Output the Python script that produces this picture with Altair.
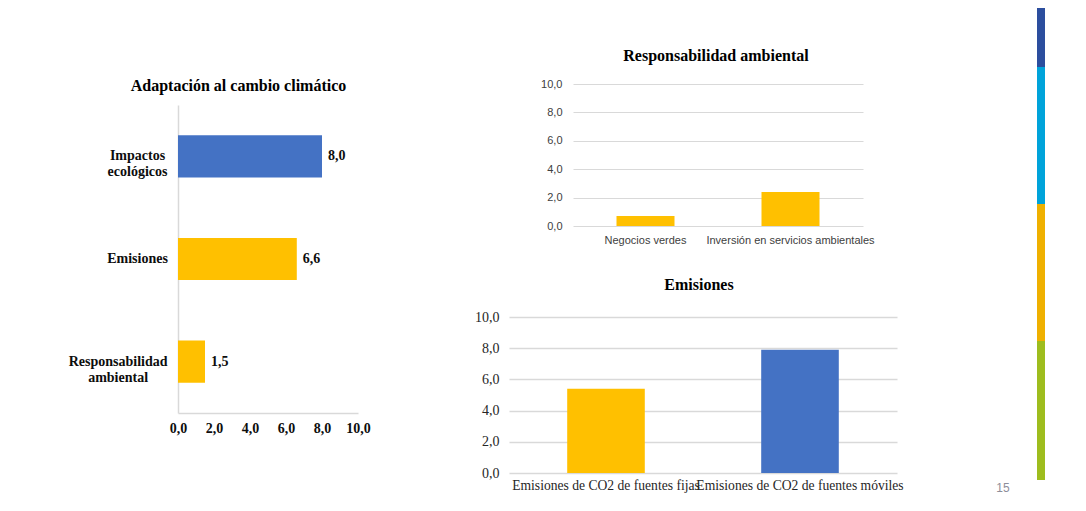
import altair as alt
import pandas as pd

# ---------------- data ----------------
adapt_cats = ["Impactos ecológicos", "Emisiones", "Responsabilidad ambiental"]
adapt_vals = [8.0, 6.6, 1.5]

resp_cats = ["Negocios verdes", "Inversión en servicios ambientales"]
resp_vals = [0.7, 2.4]

emis_cats = ["Emisiones de CO2 de fuentes fijas", "Emisiones de CO2 de fuentes móviles"]
emis_vals = [5.4, 7.9]

tick_values = [0, 2, 4, 6, 8, 10]

titles = ["Adaptación al cambio climático", "Responsabilidad ambiental", "Emisiones"]
page_number = ["15"]

# ---------------- styles ----------------
SERIF = "Liberation Serif"
SANS = "Liberation Sans"
BLUE = "#4472C4"
YELLOW = "#FFC000"
GRID = "#d9d9d9"
NUM = "replace(format(datum.value, '.1f'), '.', ',')"
W, H = 1070, 495

# centred multi-line labels whose right edge sits 11px left of the axis
label_pad = {
    "condition": {"test": f"datum.value == '{adapt_cats[2]}'", "value": 60.4},
    "value": 41,
}

# ---------------- left: Adaptación al cambio climático ----------------
df_a = pd.DataFrame({"cat": adapt_cats, "val": adapt_vals})
x_a = alt.X(
    "val:Q",
    scale=alt.Scale(domain=[0, 10], range=[170, 350], nice=False, zero=True),
    axis=alt.Axis(orient="bottom", offset=-90, values=tick_values, labelExpr=NUM,
                  domain=True, domainColor=GRID, domainWidth=1.5, ticks=False, tickSize=0,
                  grid=False, labelPadding=8, labelFlush=False, labelOverlap=False,
                  labelFont=SERIF, labelFontWeight="bold", labelFontSize=14,
                  labelColor="#0d0d0d", title=None),
)
y_a = alt.Y(
    "cat:N", sort=adapt_cats,
    scale=alt.Scale(domain=adapt_cats, range=[97, 405], paddingInner=0.59, paddingOuter=0.295),
    axis=alt.Axis(orient="left", offset=-170, domain=True, domainColor=GRID, domainWidth=1.5,
                  ticks=False, tickSize=0, grid=False, labelPadding=label_pad, labelLimit=0,
                  labelFont=SERIF, labelFontWeight="bold", labelFontSize=14,
                  labelColor="#0d0d0d", labelLineHeight=16, labelAlign="center",
                  labelExpr="split(datum.label, ' ')", title=None),
)
bars_a = alt.Chart(df_a).mark_bar().encode(
    x=x_a, y=y_a,
    color=alt.condition(alt.datum.cat == adapt_cats[0], alt.value(BLUE), alt.value(YELLOW)),
)
text_a = alt.Chart(df_a).transform_calculate(
    lbl="replace(format(datum.val, '.1f'), '.', ',')"
).mark_text(align="left", baseline="middle", dx=6, font=SERIF, fontWeight="bold",
            fontSize=14, color="#0d0d0d").encode(x=x_a, y=y_a, text="lbl:N")
left = alt.layer(bars_a, text_a)

# ---------------- top right: Responsabilidad ambiental ----------------
df_r = pd.DataFrame({"cat": resp_cats, "val": resp_vals})
right_top = alt.Chart(df_r).mark_bar(color=YELLOW).encode(
    x=alt.X("cat:N", sort=resp_cats,
            scale=alt.Scale(domain=resp_cats, range=[565, 855], paddingInner=0.6, paddingOuter=0.3),
            axis=alt.Axis(orient="bottom", offset=-277, domain=False, ticks=False, tickSize=0,
                          grid=False, labelAngle=0, labelPadding=8, labelLimit=0,
                          labelOverlap=False, labelFont=SANS, labelFontSize=11,
                          labelColor="#404040", title=None)),
    y=alt.Y("val:Q",
            scale=alt.Scale(domain=[0, 10], range=[218, 76], nice=False, zero=True),
            axis=alt.Axis(orient="left", offset=-565, values=tick_values, labelExpr=NUM,
                          domain=False, ticks=False, tickSize=0, grid=True, gridColor=GRID,
                          gridWidth=1, labelPadding=11, labelFont=SANS, labelFontSize=11,
                          labelColor="#404040", title=None)),
)

# ---------------- bottom right: Emisiones ----------------
df_e = pd.DataFrame({"cat": emis_cats, "val": emis_vals})
right_bottom = alt.Chart(df_e).mark_bar().encode(
    x=alt.X("cat:N", sort=emis_cats,
            scale=alt.Scale(domain=emis_cats, range=[501, 889], paddingInner=0.6, paddingOuter=0.3),
            axis=alt.Axis(orient="bottom", offset=-30, domain=False, ticks=False, tickSize=0,
                          grid=False, labelAngle=0, labelPadding=5, labelLimit=0,
                          labelOverlap=False, labelFont=SERIF, labelFontSize=13.6,
                          labelColor="#262626", title=None)),
    y=alt.Y("val:Q",
            scale=alt.Scale(domain=[0, 10], range=[465, 309], nice=False, zero=True),
            axis=alt.Axis(orient="left", offset=-501, values=tick_values, labelExpr=NUM,
                          domain=False, ticks=False, tickSize=0, grid=True, gridColor=GRID,
                          gridWidth=1.5, labelPadding=10, labelFont=SERIF, labelFontSize=14,
                          labelColor="#262626", title=None)),
    color=alt.condition(alt.datum.cat == emis_cats[1], alt.value(BLUE), alt.value(YELLOW)),
)

# ---------------- titles ----------------
title_pos = [(230.5, 82.5), (708, 52.5), (691, 282)]
title_layers = [
    alt.Chart(pd.DataFrame({"t": [t]})).mark_text(
        font=SERIF, fontWeight="bold", fontSize=16, align="center",
        baseline="alphabetic", color="#000000",
    ).encode(x=alt.value(px), y=alt.value(py), text="t:N")
    for t, (px, py) in zip(titles, title_pos)
]

page_layer = alt.Chart(pd.DataFrame({"t": page_number})).mark_text(
    font=SANS, fontSize=12, align="center", baseline="alphabetic", color="#8e8e9a"
).encode(x=alt.value(995), y=alt.value(484), text="t:N")

# ---------------- decorative side stripe ----------------
stripe = [("#2C4E9E", -8, 59), ("#00A3DA", 59, 196), ("#EFB000", 196, 333), ("#9EBD1E", 333, 472)]
stripe_layers = [
    alt.Chart(pd.DataFrame({"a": [0]})).mark_rect(color=c).encode(
        x=alt.value(1029), x2=alt.value(1037), y=alt.value(y0), y2=alt.value(y1))
    for c, y0, y1 in stripe
]

chart = alt.layer(
    left, right_top, right_bottom, *title_layers, page_layer, *stripe_layers
).resolve_scale(
    x="independent", y="independent"
).resolve_axis(
    x="independent", y="independent"
).properties(
    width=W, height=H, padding=0, autosize=alt.AutoSizeParams(type="none"),
    background="white",
).configure_view(stroke=None)

chart.save("out.html", embed_options={"renderer": "svg", "actions": False})
